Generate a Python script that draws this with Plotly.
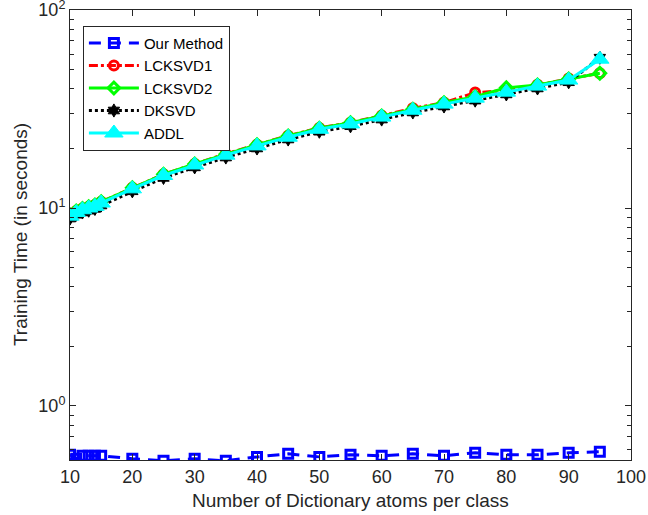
import plotly.graph_objects as go

atoms = [10, 11, 12, 13, 14, 15, 20, 25, 30, 35, 40, 45, 50, 55, 60, 65, 70, 75, 80, 85, 90, 95]
our_method = [0.567, 0.541, 0.560, 0.560, 0.560, 0.560, 0.541, 0.528, 0.541, 0.528, 0.553,
              0.573, 0.553, 0.567, 0.560, 0.573, 0.560, 0.580, 0.567, 0.567, 0.580, 0.587]
lcksvd1 = [9.25, 9.65, 9.95, 10.15, 10.35, 10.75, 12.65, 14.8, 16.7, 18.8, 20.9, 23.2, 25.4, 27.0,
           29.3, 31.9, 34.1, 38.3, 39.2, 42.0, 45.1, 48.0]
lcksvd2 = [9.25, 9.65, 9.95, 10.15, 10.35, 10.75, 12.65, 14.8, 16.7, 18.7, 20.9, 23.1, 25.3, 27.0,
           29.2, 31.6, 34.0, 36.5, 40.5, 41.9, 44.9, 48.0]
dksvd = [8.85, 9.25, 9.5, 9.7, 9.9, 10.3, 12.15, 14.2, 16.05, 18.0, 20.0, 22.2, 24.3, 25.9,
         28.0, 30.4, 32.6, 34.9, 37.5, 40.2, 43.2, 57.5]
addl = [9.1, 9.5, 9.8, 10.0, 10.2, 10.6, 12.5, 14.6, 16.5, 18.5, 20.6, 22.8, 25.0, 26.6,
        28.8, 31.2, 33.5, 35.9, 38.5, 41.3, 44.3, 56.5]

x_ticks = [10, 20, 30, 40, 50, 60, 70, 80, 90, 100]
y_ticks = [1, 10, 100]
y_ticktext = ["10<sup>0</sup>", "10<sup>1</sup>", "10<sup>2</sup>"]
y_minor = [0.6, 0.7, 0.8, 0.9, 2, 3, 4, 5, 6, 7, 8, 9, 20, 30, 40, 50, 60, 70, 80, 90]

FONT = "Liberation Sans, Arial, sans-serif"
AX = "#262626"

fig = go.Figure()
fig.add_trace(go.Scatter(
    x=atoms, y=our_method, name="Our Method", mode="lines+markers",
    line=dict(color="#0000ff", width=3, dash="12px,8px"),
    marker=dict(symbol="square-open", size=9, color="#0000ff", line=dict(width=3, color="#0000ff"))))
fig.add_trace(go.Scatter(
    x=atoms, y=lcksvd1, name="LCKSVD1", mode="lines+markers",
    line=dict(color="#ff0000", width=3, dash="dashdot"),
    marker=dict(symbol="circle-open", size=9, color="#ff0000", line=dict(width=3, color="#ff0000"))))
fig.add_trace(go.Scatter(
    x=atoms, y=lcksvd2, name="LCKSVD2", mode="lines+markers",
    line=dict(color="#00ff00", width=3),
    marker=dict(symbol="diamond-open", size=9, color="#00ff00", line=dict(width=3, color="#00ff00"))))
fig.add_trace(go.Scatter(
    x=atoms, y=dksvd, name="DKSVD", mode="lines+markers",
    line=dict(color="#000000", width=3, dash="dot"),
    marker=dict(symbol="hexagram", size=10, color="#000000", line=dict(width=1, color="#000000"))))
fig.add_trace(go.Scatter(
    x=atoms, y=addl, name="ADDL", mode="lines+markers",
    line=dict(color="#00ffff", width=3),
    marker=dict(symbol="triangle-up", size=16, color="#00ffff", line=dict(width=1, color="#00ffff"))))

axis_common = dict(
    showline=True, linecolor=AX, linewidth=1, mirror="allticks",
    ticks="inside", tickcolor=AX, ticklen=6, showgrid=False, zeroline=False,
    automargin=False, ticklabeloverflow="allow",
    tickfont=dict(family=FONT, size=18, color=AX),
)

fig.update_layout(
    width=648, height=515,
    margin=dict(l=70, r=17, t=10, b=55),
    paper_bgcolor="white", plot_bgcolor="white",
    font=dict(family=FONT, color=AX),
    xaxis=dict(range=[10, 100], tickvals=x_ticks, **axis_common),
    yaxis=dict(type="log", range=[-0.273, 2.0005], tickvals=y_ticks, ticktext=y_ticktext,
               minor=dict(tickvals=y_minor, ticks="inside", ticklen=4, tickcolor=AX, showgrid=False),
               **axis_common),
    legend=dict(x=0.023, y=0.965, xanchor="left", yanchor="top",
                bgcolor="white", bordercolor=AX, borderwidth=1,
                font=dict(size=15, color="#000000"), itemwidth=50, tracegroupgap=0),
    showlegend=True,
    annotations=[
        dict(text="Number of Dictionary atoms per class", xref="paper", yref="paper",
             x=0.5, y=-0.089, xanchor="center", yanchor="middle", showarrow=False,
             font=dict(family=FONT, size=19, color=AX)),
        dict(text="Training Time (in seconds)", xref="paper", yref="paper",
             x=-0.089, y=0.5, xanchor="center", yanchor="middle", showarrow=False,
             textangle=-90, font=dict(family=FONT, size=19, color=AX)),
    ],
)

fig.write_html("out.html", config={"displayModeBar": False},
               post_script="document.body.style.margin='0';")
